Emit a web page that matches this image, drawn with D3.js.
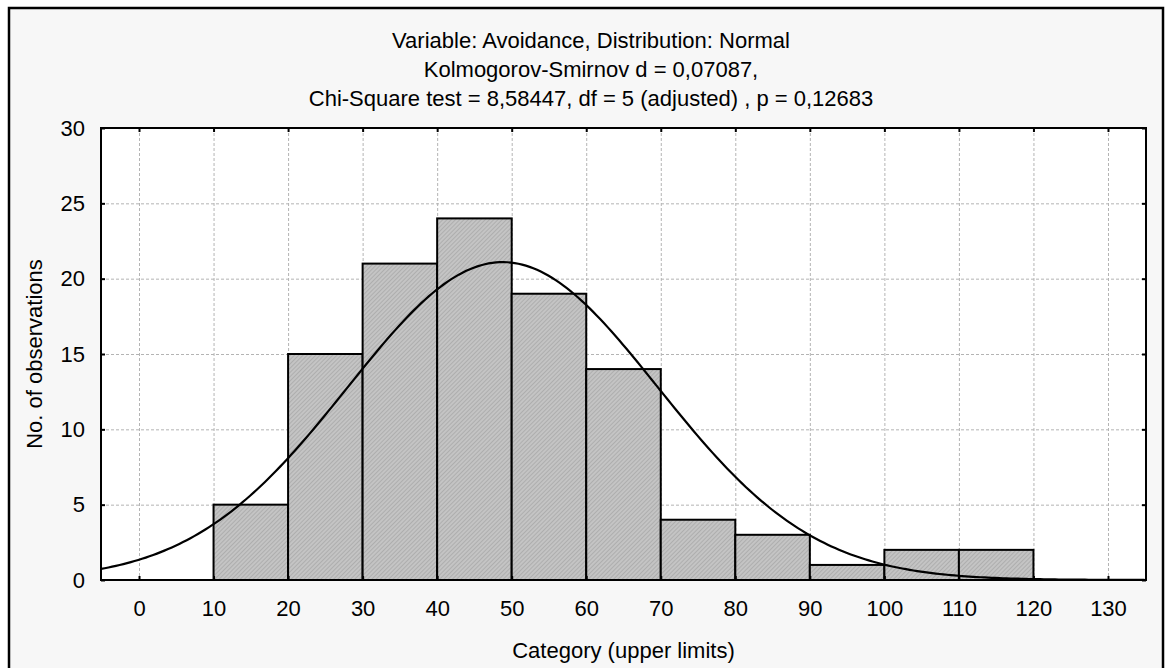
<!DOCTYPE html>
<html>
<head>
<meta charset="utf-8">
<script src="https://cdn.jsdelivr.net/npm/d3@7"></script>
<style>
  body { margin: 0; background: #fff; }
  svg { display: block; font-family: "Liberation Sans", Arial, sans-serif; }
</style>
</head>
<body>
<div id="chart"></div>
<script>
// histogram bins (lower edge of each category) and counts
const binStarts = [10, 20, 30, 40, 50, 60, 70, 80, 90, 100, 110];
const counts = [5, 15, 21, 24, 19, 14, 4, 3, 1, 2, 2];
const binWidth = 10;

// x and y tick labels
const xTicks = [0, 10, 20, 30, 40, 50, 60, 70, 80, 90, 100, 110, 120, 130];
const yTicks = [0, 5, 10, 15, 20, 25, 30];

// fitted normal distribution
const fitMean = 48.8;
const fitSd = 20.8;
const fitN = 110;

const titleLines = [
    "Variable: Avoidance, Distribution: Normal",
    "Kolmogorov-Smirnov d = 0,07087,",
    "Chi-Square test = 8,58447, df = 5 (adjusted) , p = 0,12683"
];

const W = 1168, H = 668;
const margin = {top: 128, right: 22, bottom: 88, left: 101},
    width = W - margin.left - margin.right,
    height = H - margin.top - margin.bottom;

const fontSize = "22px";

const svg = d3.select("#chart").append("svg")
    .attr("width", W)
    .attr("height", H);

// hatch pattern for bars
const defs = svg.append("defs");
const pat = defs.append("pattern")
    .attr("id", "hatch")
    .attr("patternUnits", "userSpaceOnUse")
    .attr("width", 3)
    .attr("height", 3)
    .attr("patternTransform", "rotate(45)");
pat.append("rect").attr("width", 3).attr("height", 3).attr("fill", "#c4c4c4");
pat.append("line").attr("x1", 0).attr("y1", 0).attr("x2", 0).attr("y2", 3)
    .attr("stroke", "#a0a0a0").attr("stroke-width", 1.2);

defs.append("clipPath").attr("id", "plotclip")
    .append("rect").attr("width", width).attr("height", height);

// outer frame
svg.append("rect")
    .attr("x", 9).attr("y", 8)
    .attr("width", 1154).attr("height", 680)
    .attr("fill", "#f7f7f7")
    .attr("stroke", "#000")
    .attr("stroke-width", 2.5);

// titles
svg.selectAll(".title")
    .data(titleLines)
    .enter()
    .append("text")
    .attr("class", "title")
    .attr("x", 591)
    .attr("y", function(d, i){ return 48 + i * 29; })
    .attr("text-anchor", "middle")
    .style("font-size", fontSize)
    .text(function(d){ return d; });

const g = svg.append("g")
    .attr("transform", "translate(" + margin.left + "," + margin.top + ")");

// scales
const x = d3.scaleLinear().domain([-5.1, 135.1]).range([0, width]);
const y = d3.scaleLinear().domain([0, 30]).range([height, 0]);

g.append("rect")
    .attr("width", width).attr("height", height)
    .attr("fill", "#fff");

// grid lines
g.append("g")
    .call(d3.axisBottom(x).tickValues(xTicks).tickSize(height).tickFormat(""))
    .call(function(s){
        s.select(".domain").remove();
        s.selectAll("line").attr("stroke", "#b4b4b4").attr("stroke-dasharray", "3,2");
    });
g.append("g")
    .call(d3.axisLeft(y).tickValues(yTicks.slice(1, -1)).tickSize(-width).tickFormat(""))
    .call(function(s){
        s.select(".domain").remove();
        s.selectAll("line").attr("stroke", "#b4b4b4").attr("stroke-dasharray", "3,2");
    });

// bars
g.selectAll(".bar")
    .data(binStarts)
    .enter()
    .append("rect")
    .attr("class", "bar")
    .attr("x", function(d){ return x(d); })
    .attr("width", function(d){ return x(d + binWidth) - x(d); })
    .attr("y", function(d, i){ return y(counts[i]); })
    .attr("height", function(d, i){ return height - y(counts[i]); })
    .attr("fill", "url(#hatch)")
    .attr("stroke", "#000")
    .attr("stroke-width", 2);

// normal curve (expected counts per bin)
const curvePts = d3.range(-5.1, 135.2, 0.5).map(function(v){
    const z = (v - fitMean) / fitSd;
    return [v, fitN * binWidth * Math.exp(-0.5 * z * z) / (fitSd * Math.sqrt(2 * Math.PI))];
});
g.append("path")
    .datum(curvePts)
    .attr("clip-path", "url(#plotclip)")
    .attr("fill", "none")
    .attr("stroke", "#000")
    .attr("stroke-width", 2.2)
    .attr("d", d3.line()
        .x(function(d){ return x(d[0]); })
        .y(function(d){ return y(d[1]); }));

// axes with inward ticks
function styleAxis(s){
    s.select(".domain").remove();
    s.selectAll("line").attr("stroke", "#000").attr("stroke-width", 2);
}
g.append("g")
    .attr("transform", "translate(0," + height + ")")
    .call(d3.axisBottom(x).tickValues(xTicks).tickSizeInner(-4).tickPadding(20))
    .call(styleAxis)
    .selectAll("text").style("font-size", fontSize).attr("fill", "#000");
g.append("g")
    .call(d3.axisTop(x).tickValues(xTicks).tickSize(-4).tickFormat(""))
    .call(styleAxis);
g.append("g")
    .call(d3.axisLeft(y).tickValues(yTicks).tickSizeInner(-4).tickPadding(16))
    .call(styleAxis)
    .selectAll("text").style("font-size", fontSize).attr("fill", "#000");
g.append("g")
    .attr("transform", "translate(" + width + ",0)")
    .call(d3.axisRight(y).tickValues(yTicks).tickSize(-4).tickFormat(""))
    .call(styleAxis);

// plot border
g.append("rect")
    .attr("width", width).attr("height", height)
    .attr("fill", "none")
    .attr("stroke", "#000")
    .attr("stroke-width", 2);

// axis titles
svg.append("text")
    .attr("x", margin.left + width / 2)
    .attr("y", 658)
    .attr("text-anchor", "middle")
    .style("font-size", fontSize)
    .text("Category (upper limits)");

svg.append("text")
    .attr("transform", "translate(42," + (margin.top + height / 2) + ") rotate(-90)")
    .attr("text-anchor", "middle")
    .style("font-size", fontSize)
    .text("No. of observations");
</script>
</body>
</html>
